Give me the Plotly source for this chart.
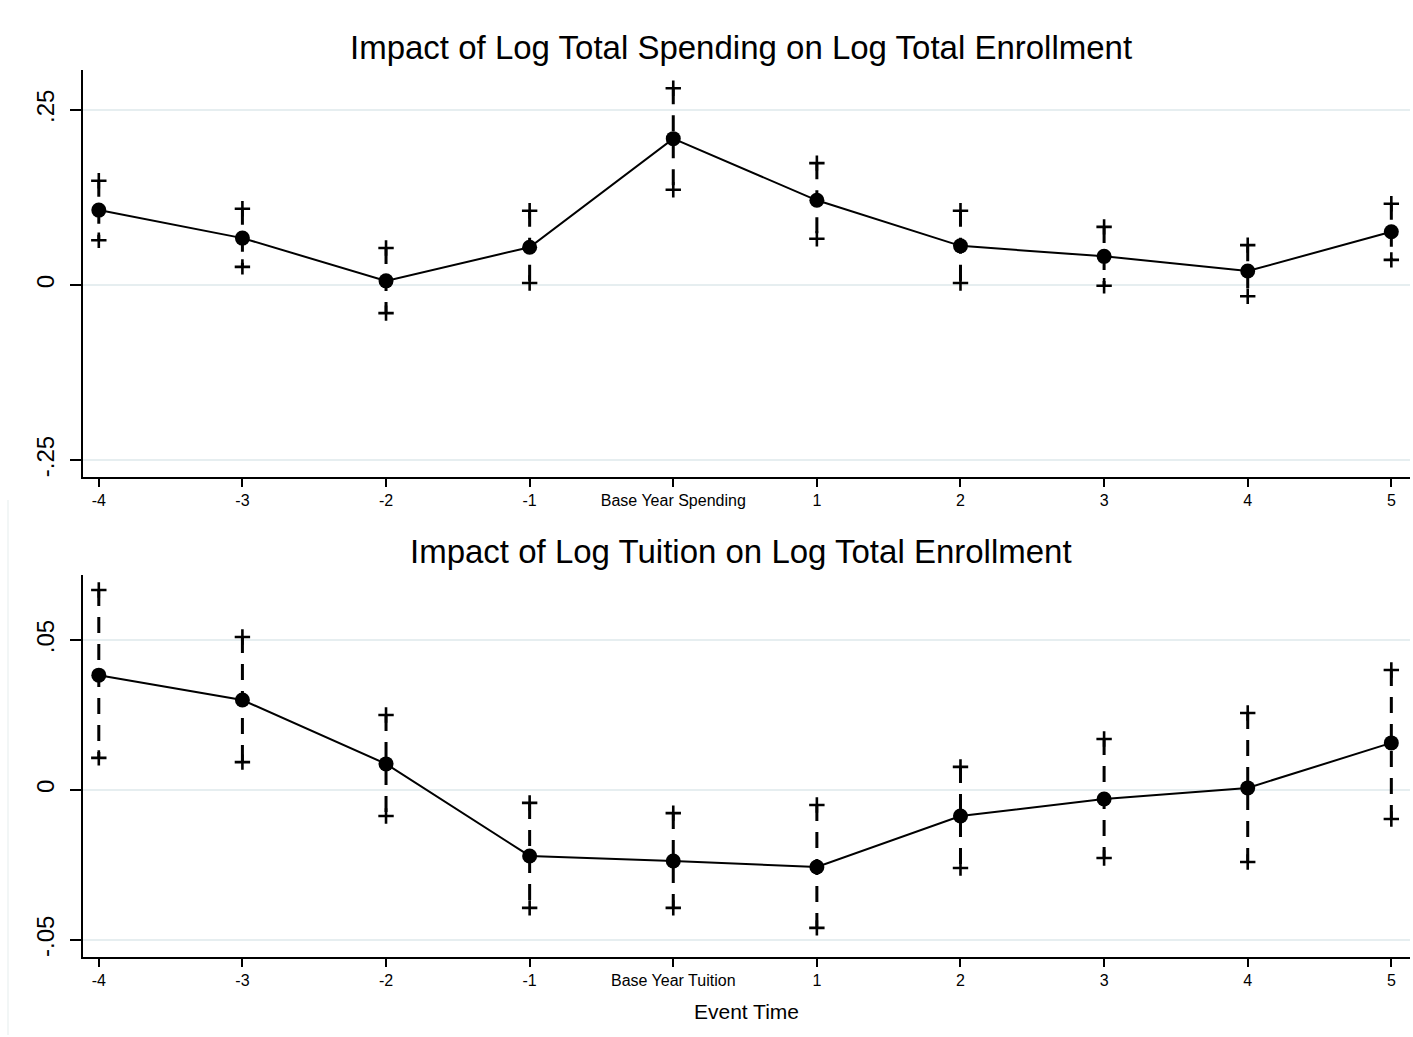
import plotly.graph_objects as go

event_time = [-4, -3, -2, -1, 0, 1, 2, 3, 4, 5]
x_tick_vals = [-4, -3, -2, -1, 0, 1, 2, 3, 4, 5]
x_labels_top = ["-4", "-3", "-2", "-1", "Base Year Spending", "1", "2", "3", "4", "5"]
x_labels_bot = ["-4", "-3", "-2", "-1", "Base Year Tuition", "1", "2", "3", "4", "5"]

spend_coef = [0.107, 0.067, 0.006, 0.054, 0.209, 0.121, 0.056, 0.041, 0.020, 0.076]
spend_hi = [0.149, 0.109, 0.053, 0.106, 0.281, 0.174, 0.106, 0.083, 0.057, 0.116]
spend_lo = [0.064, 0.026, -0.040, 0.003, 0.136, 0.066, 0.003, -0.001, -0.016, 0.036]

tuit_coef = [0.0383, 0.0300, 0.0087, -0.0220, -0.0237, -0.0257, -0.0087, -0.0030, 0.0007, 0.0157]
tuit_hi = [0.0667, 0.0510, 0.0250, -0.0043, -0.0077, -0.0050, 0.0077, 0.0170, 0.0257, 0.0400]
tuit_lo = [0.0107, 0.0093, -0.0087, -0.0393, -0.0393, -0.0460, -0.0260, -0.0227, -0.0240, -0.0097]

top_yticks = [-0.25, 0, 0.25]
top_yticktext = ["-.25", "0", ".25"]
bot_yticks = [-0.05, 0, 0.05]
bot_yticktext = ["-.05", "0", ".05"]

W, H = 1413, 1037
FONT = "Liberation Sans, Arial, sans-serif"

fig = go.Figure()


def add_panel(coef, hi, lo, xa, ya):
    cx, cy = [], []
    for x, h, l in zip(event_time, hi, lo):
        cx += [x, x, None]
        cy += [h, l, None]
    fig.add_trace(go.Scatter(x=cx, y=cy, mode="lines", xaxis=xa, yaxis=ya,
                             line=dict(color="black", width=3, dash="16px,11px"),
                             showlegend=False, hoverinfo="skip"))
    fig.add_trace(go.Scatter(x=event_time + event_time, y=hi + lo, mode="markers",
                             xaxis=xa, yaxis=ya,
                             marker=dict(symbol="cross-thin", size=11, color="black",
                                         line=dict(color="black", width=2.6)),
                             showlegend=False))
    fig.add_trace(go.Scatter(x=event_time, y=coef, mode="lines+markers", xaxis=xa, yaxis=ya,
                             line=dict(color="black", width=2),
                             marker=dict(symbol="circle", size=15, color="black"),
                             showlegend=False))


add_panel(spend_coef, spend_hi, spend_lo, "x", "y")
add_panel(tuit_coef, tuit_hi, tuit_lo, "x2", "y2")

xdom = [83 / W, 1410 / W]
common_x = dict(range=[-4.11, 5.13], showline=True, linecolor="black", linewidth=2,
                ticks="outside", ticklen=8, tickwidth=2, tickcolor="black",
                tickvals=x_tick_vals, showgrid=False, zeroline=False,
                tickfont=dict(family=FONT, size=16, color="black"), domain=xdom)
common_y = dict(showline=True, linecolor="black", linewidth=2,
                ticks="outside", ticklen=11, tickwidth=2, tickcolor="black",
                showgrid=True, gridcolor="#e6eef0", gridwidth=2, zeroline=False,
                tickangle=-90, ticklabelstandoff=6,
                tickfont=dict(family=FONT, size=24, color="black"))

fig.update_layout(
    width=W, height=H,
    margin=dict(l=0, r=0, t=0, b=0),
    paper_bgcolor="white", plot_bgcolor="white",
    xaxis=dict(common_x, ticktext=x_labels_top, anchor="y"),
    yaxis=dict(common_y, range=[-0.274, 0.307], tickvals=top_yticks, ticktext=top_yticktext,
               domain=[1 - 477 / H, 1 - 70 / H], anchor="x"),
    xaxis2=dict(common_x, ticktext=x_labels_bot, anchor="y2",
                title=dict(text="Event Time", font=dict(family=FONT, size=21, color="black"),
                           standoff=16)),
    yaxis2=dict(common_y, range=[-0.0557, 0.0717], tickvals=bot_yticks, ticktext=bot_yticktext,
                domain=[1 - 957 / H, 1 - 575 / H], anchor="x2"),
    shapes=[dict(type="line", xref="paper", yref="paper", x0=8 / W, x1=8 / W,
                 y0=2 / H, y1=1 - 500 / H, line=dict(color="#eef3f3", width=1.5))],
    annotations=[
        dict(text="Impact of Log Total Spending on Log Total Enrollment", x=741 / W, y=1 - 47 / H,
             xref="paper", yref="paper", showarrow=False, xanchor="center", yanchor="middle",
             font=dict(family=FONT, size=33, color="black")),
        dict(text="Impact of Log Tuition on Log Total Enrollment", x=741 / W, y=1 - 551 / H,
             xref="paper", yref="paper", showarrow=False, xanchor="center", yanchor="middle",
             font=dict(family=FONT, size=33, color="black")),
    ],
)

fig.write_html("out.html", config={"displayModeBar": False},
               post_script="document.body.style.margin='0px';")
